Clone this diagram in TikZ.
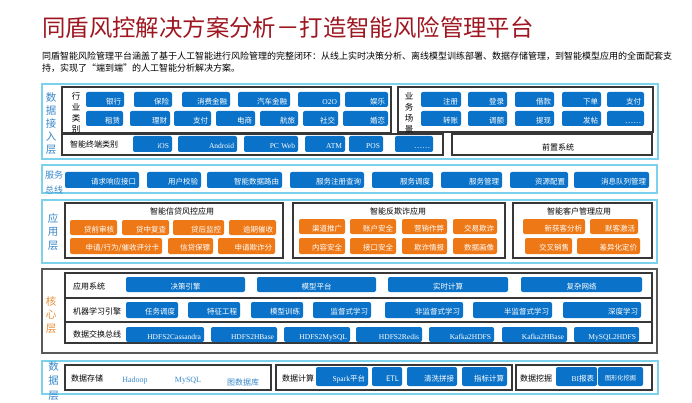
\documentclass[tikz,border=0pt]{standalone}
\usepackage{fontspec}
\setmainfont{Noto Sans CJK SC}
\newfontfamily\latinrm{Liberation Serif}
\usetikzlibrary{positioning}
\definecolor{btnblue}{RGB}{10,114,200}
\definecolor{btnorange}{RGB}{238,120,22}
\definecolor{laycyan}{RGB}{125,210,235}
\definecolor{labblue}{RGB}{55,135,200}
\definecolor{laborange}{RGB}{232,140,52}
\definecolor{titlered}{RGB}{158,22,32}
\definecolor{boxgray}{RGB}{55,55,55}
\begin{document}
\begin{tikzpicture}[x=1pt, y=-1pt,
  layerbox/.style={draw=laycyan, line width=1.4pt},
  grpbox/.style={draw=boxgray, line width=1.1pt},
  corebox/.style={draw=gray!70!black, line width=1.2pt},
  btn/.style={rectangle, rounded corners=2pt, text=white, inner xsep=3pt, inner ysep=1pt,
    minimum height=15pt, text height=9.5pt, text depth=0pt, text width=#1pt-6pt, align=right,
    font={\fontsize{7.5pt}{8pt}\selectfont}},
  bbtn/.style={btn=#1, fill=btnblue},
  cbtn/.style={btn=#1, fill=btnblue, align=center},
  obtn/.style={btn=#1, fill=btnorange},
  laylabel/.style={align=center, text=labblue, font={\fontsize{10.5pt}{13pt}\selectfont}},
  rowlabel/.style={anchor=west, inner sep=0pt, font={\fontsize{8pt}{9pt}\selectfont}},
  grplabel/.style={align=center, font={\fontsize{8.5pt}{11pt}\selectfont}},
  stext/.style={text=labblue, font={\fontsize{8pt}{9pt}\selectfont}}
]
\useasboundingbox (0,0) rectangle (692,403);

% title
\node[anchor=west, inner sep=0pt, text=titlered, font={\fontsize{23.4pt}{25pt}\selectfont}] (title) at (42,28) {同盾风控解决方案分析－打造智能风险管理平台};
\node[anchor=west, inner sep=0pt, font={\fontsize{9pt}{11pt}\selectfont}] (sub1) at (42,56) {同盾智能风险管理平台涵盖了基于人工智能进行风险管理的完整闭环：从线上实时决策分析、离线模型训练部署、数据存储管理，到智能模型应用的全面配套支};
\node[anchor=west, inner sep=0pt, font={\fontsize{9pt}{11pt}\selectfont}] (sub2) at (42,68.5) {持，实现了“端到端”的人工智能分析解决方案。};

% data access layer
\draw[layerbox] (42,84) rectangle (658,159);
\node[laylabel] (l-access) at (51,124) {数\\据\\接\\入\\层};
\draw[grpbox] (62,87) rectangle (391,133);
\node[grplabel] (g-hy) at (76,113) {行\\业\\类\\别};
\node[bbtn=38] (hy1) at (105,99.5) {银行};
\node[bbtn=38] (hy2) at (153,99.5) {保险};
\node[bbtn=48] (hy3) at (206,99.5) {消费金融};
\node[bbtn=52] (hy4) at (264,99.5) {汽车金融};
\node[bbtn=42] (hy5) at (319,99.5) {\latinrm O2O};
\node[bbtn=43] (hy6) at (366.5,99.5) {娱乐};
\node[bbtn=37] (hy7) at (104.5,118.5) {租赁};
\node[bbtn=40] (hy8) at (150,118.5) {理财};
\node[bbtn=37] (hy9) at (192.5,118.5) {支付};
\node[bbtn=39] (hy10) at (235.5,118.5) {电商};
\node[bbtn=38] (hy11) at (279,118.5) {航旅};
\node[bbtn=35] (hy12) at (320.5,118.5) {社交};
\node[bbtn=45] (hy13) at (365.5,118.5) {婚恋};

\draw[grpbox] (398,87) rectangle (653,132);
\node[grplabel] (g-yw) at (409,113) {业\\务\\场\\景};
\node[bbtn=40] (yw1) at (441,99.5) {注册};
\node[bbtn=39] (yw2) at (487.5,99.5) {登录};
\node[bbtn=39] (yw3) at (534.5,99.5) {借款};
\node[bbtn=39] (yw4) at (581.5,99.5) {下单};
\node[bbtn=37] (yw5) at (625.5,99.5) {支付};
\node[bbtn=40] (yw6) at (441,118.5) {转账};
\node[bbtn=39] (yw7) at (487.5,118.5) {调额};
\node[bbtn=39] (yw8) at (534.5,118.5) {提现};
\node[bbtn=39] (yw9) at (581.5,118.5) {发帖};
\node[bbtn=37] (yw10) at (625.5,118.5) {……};

\draw[grpbox] (62,134) rectangle (443,155);
\node[rowlabel] (g-zd) at (70,144.5) {智能终端类别};
\node[bbtn=39, minimum height=16pt] (zd1) at (152.5,144) {\latinrm iOS};
\node[bbtn=59, minimum height=16pt] (zd2) at (207.5,144) {\latinrm Android};
\node[bbtn=54, minimum height=16pt] (zd3) at (271,144) {\latinrm PC Web};
\node[bbtn=40, minimum height=16pt] (zd4) at (325,144) {\latinrm ATM};
\node[bbtn=34, minimum height=16pt] (zd5) at (366,144) {\latinrm POS};
\node[bbtn=38, minimum height=16pt] (zd6) at (414,144) {……};
\draw[grpbox] (452,134) rectangle (652,155);
\node[rowlabel, anchor=center] (g-qz) at (558,147) {前置系统};

% service bus
\draw[layerbox] (42,165) rectangle (657,193);
\node[laylabel, font={\fontsize{9pt}{15pt}\selectfont}] (l-bus) at (54,182.5) {服务\\总线};
\node[bbtn=74, minimum height=16pt] (fw1) at (102,180) {请求响应接口};
\node[bbtn=54, minimum height=16pt] (fw2) at (174,180) {用户校验};
\node[bbtn=75, minimum height=16pt] (fw3) at (244.5,180) {智能数据路由};
\node[bbtn=74, minimum height=16pt] (fw4) at (327,180) {服务注册查询};
\node[bbtn=61, minimum height=16pt] (fw5) at (402.5,180) {服务调度};
\node[bbtn=61, minimum height=16pt] (fw6) at (471.5,180) {服务管理};
\node[bbtn=58, minimum height=16pt] (fw7) at (539,180) {资源配置};
\node[bbtn=75, minimum height=16pt] (fw8) at (611.5,180) {消息队列管理};

% application layer
\draw[layerbox] (42,200) rectangle (657,263);
\node[laylabel, font={\fontsize{10.5pt}{13.5pt}\selectfont}] (l-app) at (53,232) {应\\用\\层};
\draw[grpbox] (65,203) rectangle (283,258);
\node[rowlabel, anchor=center] (g-xd) at (182,211) {智能信贷风控应用};
\node[obtn=47] (xd1) at (93.5,227.5) {贷前审核};
\node[obtn=47] (xd2) at (145.5,227.5) {贷中复查};
\node[obtn=51] (xd3) at (198.5,227.5) {贷后监控};
\node[obtn=47] (xd4) at (252.5,227.5) {逾期催收};
\node[obtn=92, minimum height=16pt] (xd5) at (116,246) {申请/行为/催收评分卡};
\node[obtn=45, minimum height=16pt] (xd6) at (190.5,246) {信贷保镖};
\node[obtn=57, minimum height=16pt] (xd7) at (246.5,246) {申请欺诈分};

\draw[grpbox] (293,203) rectangle (505,258);
\node[rowlabel, anchor=center] (g-fqz) at (398,211) {智能反欺诈应用};
\node[obtn=46] (qz1) at (322,226.5) {渠道推广};
\node[obtn=46] (qz2) at (373,226.5) {账户安全};
\node[obtn=45] (qz3) at (424.5,226.5) {营销作弊};
\node[obtn=44] (qz4) at (475,226.5) {交易欺诈};
\node[obtn=46, minimum height=16pt] (qz5) at (322,246) {内容安全};
\node[obtn=46, minimum height=16pt] (qz6) at (373,246) {接口安全};
\node[obtn=45, minimum height=16pt] (qz7) at (424.5,246) {欺诈情报};
\node[obtn=44, minimum height=16pt] (qz8) at (475,246) {数据画像};

\draw[grpbox] (513,203) rectangle (652,258);
\node[rowlabel, anchor=center] (g-kh) at (579,211) {智能客户管理应用};
\node[obtn=62] (kh1) at (554,226.5) {新获客分析};
\node[obtn=48] (kh2) at (614,226.5) {默客激活};
\node[obtn=47, minimum height=16pt] (kh3) at (548.5,246) {交叉销售};
\node[obtn=63, minimum height=16pt] (kh4) at (608.5,246) {差异化定价};

% core layer
\draw[corebox] (42,269) rectangle (657,353);
\node[laylabel, text=laborange, font={\fontsize{10.5pt}{13.5pt}\selectfont}] (l-core) at (51,315) {核\\心\\层};
\draw[grpbox] (65,273) rectangle (652,343);
\draw[grpbox, line width=1.4pt] (65,298) -- (652,298);
\draw[grpbox, line width=1.4pt] (65,322) -- (652,322);
\node[rowlabel] (r-yy) at (73,286) {应用系统};
\node[rowlabel] (r-jq) at (73,311) {机器学习引擎};
\node[rowlabel] (r-sj) at (73,334) {数据交换总线};
\node[cbtn=119] (hx1) at (185.5,284.5) {决策引擎};
\node[cbtn=119] (hx2) at (316.5,284.5) {模型平台};
\node[cbtn=120] (hx3) at (448,284.5) {实时计算};
\node[cbtn=121] (hx4) at (581.5,284.5) {复杂网络};
\node[bbtn=52, minimum height=16pt] (ml1) at (152,310) {任务调度};
\node[bbtn=52, minimum height=16pt] (ml2) at (214,310) {特征工程};
\node[bbtn=52, minimum height=16pt] (ml3) at (277,310) {模型训练};
\node[bbtn=58, minimum height=16pt] (ml4) at (342,310) {监督式学习};
\node[bbtn=78, minimum height=16pt] (ml5) at (424,310) {非监督式学习};
\node[bbtn=79, minimum height=16pt] (ml6) at (512.5,310) {半监督式学习};
\node[bbtn=78, minimum height=16pt] (ml7) at (602,310) {深度学习};
\node[bbtn=78] (ex1) at (165,334.5) {\latinrm HDFS2Cassandra};
\node[bbtn=66] (ex2) at (244,334.5) {\latinrm HDFS2HBase};
\node[bbtn=66] (ex3) at (317,334.5) {\latinrm HDFS2MySQL};
\node[bbtn=66] (ex4) at (389,334.5) {\latinrm HDFS2Redis};
\node[bbtn=65] (ex5) at (461.5,334.5) {\latinrm Kafka2HDFS};
\node[bbtn=65] (ex6) at (534.5,334.5) {\latinrm Kafka2HBase};
\node[bbtn=65] (ex7) at (606.5,334.5) {\latinrm MySQL2HDFS};

% data layer
\draw[layerbox] (42,361) rectangle (658,394);
\node[laylabel, font={\fontsize{10.5pt}{14.5pt}\selectfont}] (l-data) at (53.5,381) {数\\据\\层};
\draw[grpbox] (65,365) rectangle (271,390);
\node[rowlabel] (g-cc) at (71,378) {数据存储};
\node[stext] (cc1) at (135,381) {\latinrm Hadoop};
\node[stext] (cc2) at (188,381) {\latinrm MySQL};
\node[stext] (cc3) at (243,382) {图数据库};
\draw[grpbox] (276,365) rectangle (512,390);
\node[rowlabel] (g-js) at (282,378) {数据计算};
\node[bbtn=52, minimum height=19pt] (js1) at (342,376.5) {{\latinrm Spark}平台};
\node[bbtn=30, minimum height=19pt] (js2) at (387,376.5) {ETL};
\node[bbtn=50, minimum height=19pt] (js3) at (432,376.5) {清洗拼接};
\node[bbtn=45, minimum height=19pt] (js4) at (484.5,376.5) {指标计算};
\draw[grpbox] (516,365) rectangle (652,390);
\node[rowlabel] (g-wj) at (520,378) {数据挖掘};
\node[bbtn=41, minimum height=19pt] (wj1) at (576.5,376.5) {{\latinrm BI}报表};
\node[bbtn=45, minimum height=19pt, align=center, text height=7pt, font={\fontsize{6.2pt}{7pt}\selectfont}] (wj2) at (620.5,376.5) {图形化挖掘};
\end{tikzpicture}
\end{document}
